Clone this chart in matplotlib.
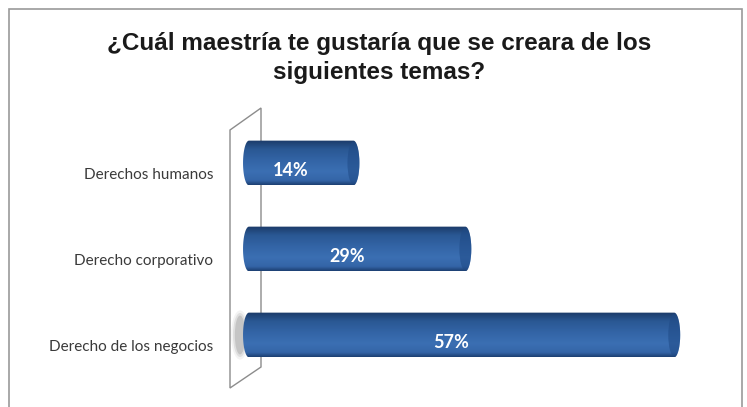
import numpy as np
import matplotlib
matplotlib.use("Agg")
import matplotlib.pyplot as plt
from matplotlib.path import Path
from matplotlib.patches import PathPatch, Ellipse, Polygon, Rectangle
from matplotlib.colors import LinearSegmentedColormap

# datos
categorias = ["Derecho de los negocios", "Derecho corporativo", "Derechos humanos"]
valores = [57, 29, 14]
etiquetas = ["57%", "29%", "14%"]
titulo = "¿Cuál maestría te gustaría que se creara de los\nsiguientes temas?"

W, H = 747, 407
fig = plt.figure(figsize=(W / 100, H / 100), dpi=100)
fig.patch.set_facecolor("white")

# marco del grafico
fig.add_artist(Rectangle((9 / W, -0.05), (742 - 9) / W, 1.05 - 9 / H,
                         transform=fig.transFigure, fill=False,
                         edgecolor="#9a9a9a", linewidth=1.2, zorder=-2))

# pared de fondo (panel inclinado)
px = [(230, 130), (261, 108), (261, 367), (230, 388)]
fig.add_artist(Polygon([(x / W, 1 - y / H) for x, y in px], closed=True,
                       transform=fig.transFigure, fill=False,
                       edgecolor="#8c8c8c", linewidth=1.0, zorder=-1))

fig.text(379 / W, 1 - 58 / H, titulo, ha="center", va="center",
         fontsize=17.5, fontweight="bold", family="Liberation Sans",
         color="#1a1a1a", linespacing=1.3)

x0px, escala = 249, 7.46
izq_px = 228
ax = fig.add_axes([izq_px / W, (H - 378) / H, (742 - izq_px) / W, 258 / H])
xlim = ((izq_px - x0px) / escala, (742 - x0px) / escala)
ax.axis("off")

cmap = LinearSegmentedColormap.from_list("cil", [
    (0.0, "#1d3f72"), (0.1, "#3465a7"), (0.3, "#3b6fb3"),
    (0.55, "#3364a6"), (0.8, "#2a5893"), (1.0, "#1b3a68")])
grad = np.linspace(0, 1, 200).reshape(-1, 1)

h = 0.52
rx = 0.8
t = np.linspace(-np.pi / 2, np.pi / 2, 40)

for i, (cat, v, lab) in enumerate(zip(categorias, valores, etiquetas)):
    yc = i
    # contorno del cilindro con extremos redondeados
    der = np.column_stack([v + rx * np.cos(t), yc + h / 2 * np.sin(t)])[::-1]
    izq = np.column_stack([0 - rx * np.cos(t), yc + h / 2 * np.sin(t)])
    pts = np.vstack([der, izq, der[:1]])
    patch = PathPatch(Path(pts, closed=True), facecolor="none",
                      edgecolor="none")
    ax.add_patch(patch)
    if i == 0:
        # sombra gris en la base
        for k, a in enumerate([0.08, 0.14, 0.22]):
            ax.add_patch(Ellipse((-1.2, yc), 2.4 - k * 0.5, h * 1.1 - k * 0.06,
                                 facecolor="#6a6a6a", alpha=a,
                                 edgecolor="none", zorder=1))
    im = ax.imshow(grad, extent=(-rx, v + rx, yc + h / 2, yc - h / 2),
                   cmap=cmap, aspect="auto", interpolation="bilinear", zorder=2)
    im.set_clip_path(patch)
    ax.add_patch(Ellipse((v, yc), 2 * rx, h * 0.96, facecolor="#1f4a86",
                         alpha=0.55, edgecolor="none", zorder=3))
    ax.text(v / 2 - 1.4, yc - 0.09, lab, ha="center", va="center",
            color="white", fontsize=13, fontweight="bold", family="Lato",
            zorder=4)
    ax.text(-36 / escala, yc - 0.14, cat, ha="right", va="center", fontsize=11,
            family="Lato", color="#3a3a3a", clip_on=False)

ax.set_xlim(*xlim)
ax.set_ylim(-0.5, 2.5)
fig.savefig("out.png", dpi=100)
